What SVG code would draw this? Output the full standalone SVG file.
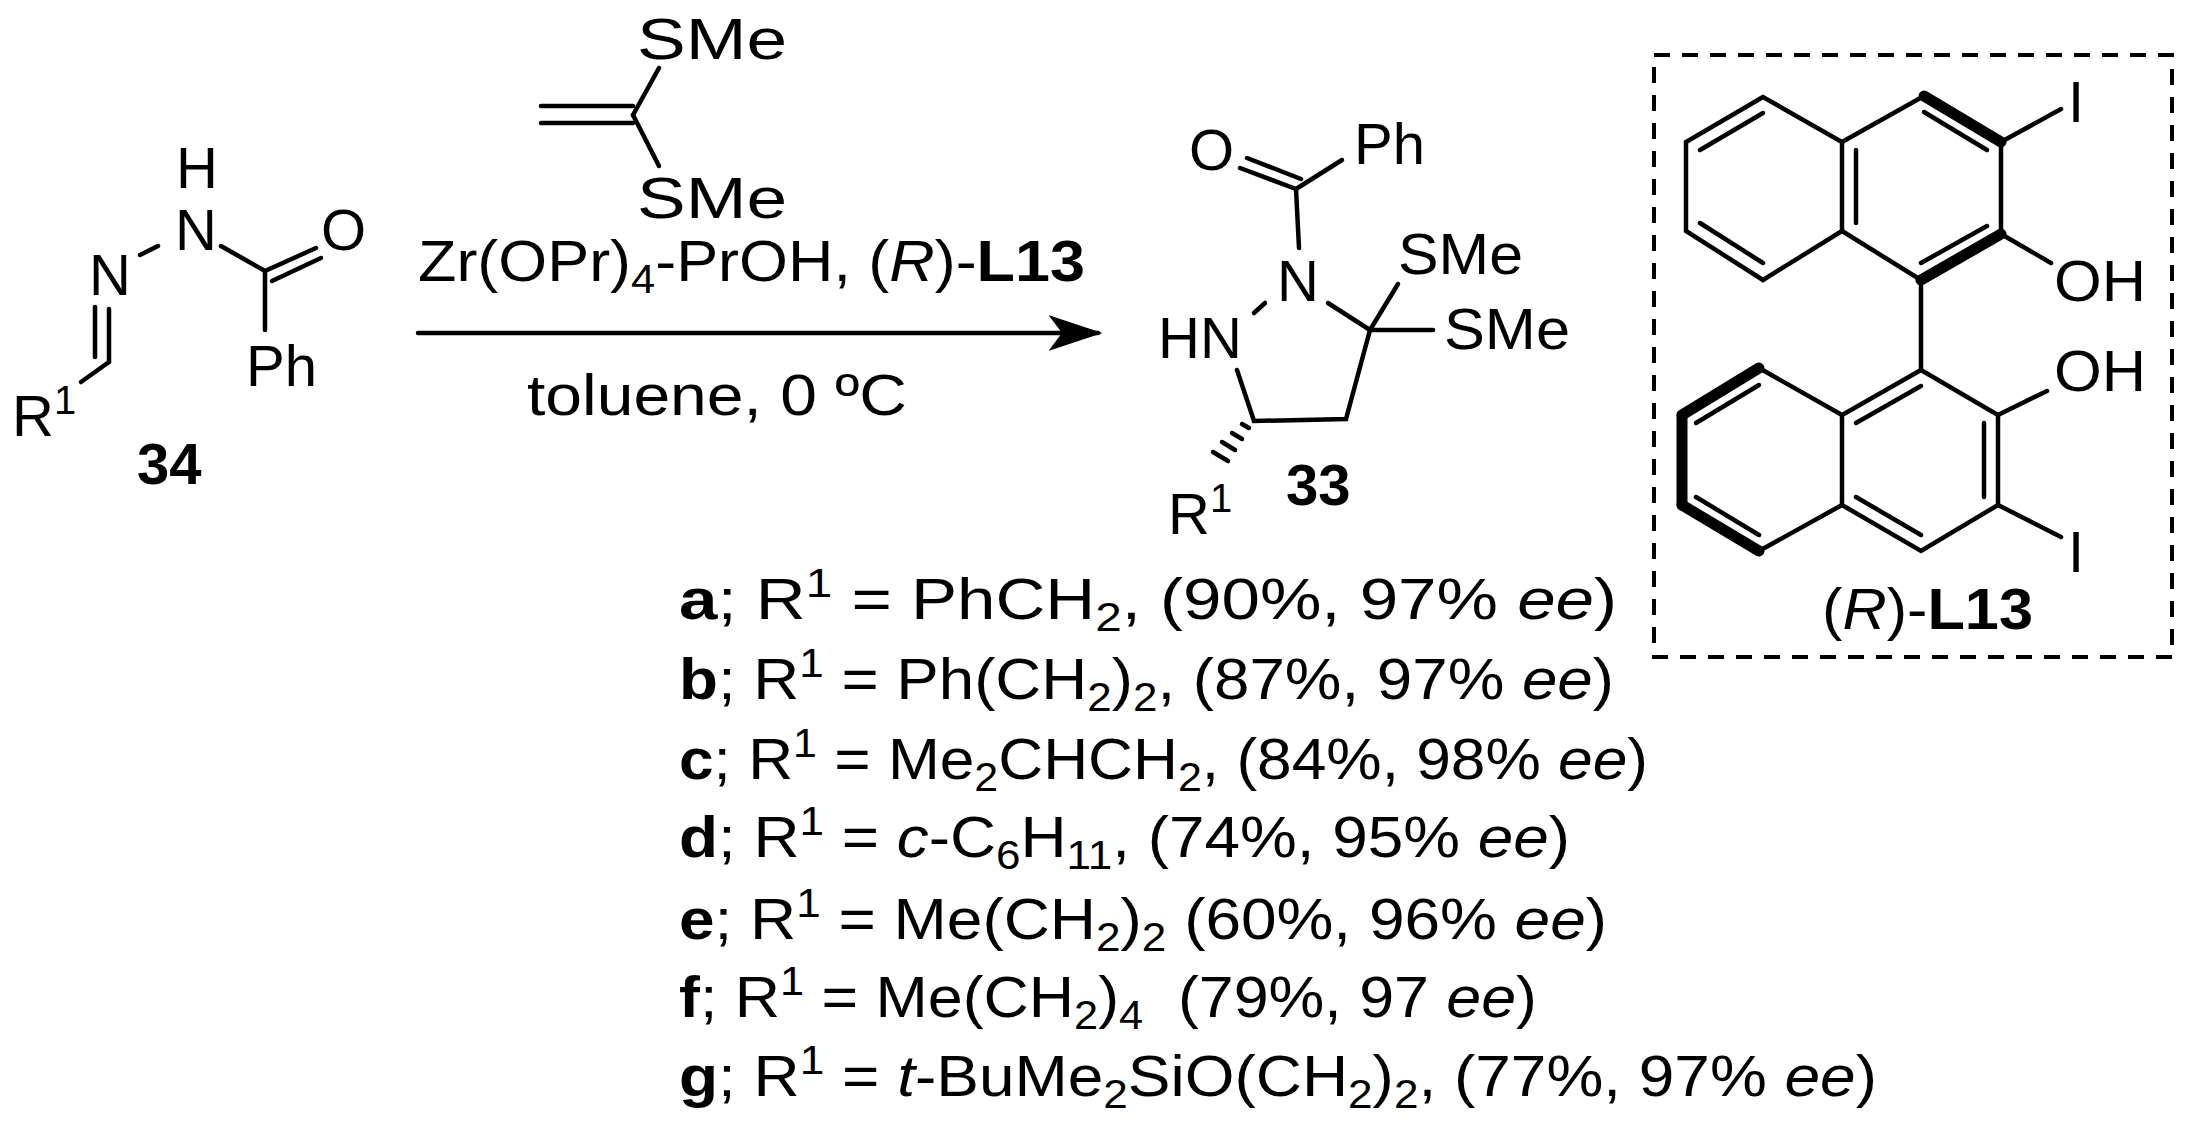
<svg xmlns="http://www.w3.org/2000/svg" width="2193" height="1142" viewBox="0 0 2193 1142">
<style>
text{font-family:"Liberation Sans",Arial,sans-serif;font-size:58px;fill:#000}
.b{font-weight:bold}
.i{font-style:italic}
.sub{font-size:40px}
line,polyline,polygon{stroke:#000;stroke-width:4.5;fill:none;stroke-linecap:round}
.w{stroke-width:11}
</style>
<defs><marker id="ah" markerWidth="12" markerHeight="8" refX="11" refY="4" orient="auto" markerUnits="strokeWidth"><path d="M0,0 L12,4 L0,8 L3,4 Z" fill="#000"/></marker></defs>
<g id="reagent">
<text x="637" y="59" textLength="150" lengthAdjust="spacingAndGlyphs">SMe</text>
<text x="637" y="218" textLength="150" lengthAdjust="spacingAndGlyphs">SMe</text>
<line x1="633" y1="115" x2="659" y2="68"/>
<line x1="633" y1="115" x2="659" y2="166"/>
<line x1="541" y1="106" x2="633" y2="106"/>
<line x1="541" y1="123" x2="633" y2="123"/>
</g>
<g id="connectors">
<line x1="418" y1="333" x2="1098" y2="333" marker-end="url(#ah)"/>
<text x="418" y="281" textLength="667" lengthAdjust="spacingAndGlyphs">Zr(OPr)<tspan class="sub" dy="12">4</tspan><tspan dy="-12">-PrOH, (</tspan><tspan class="i">R</tspan>)-<tspan class="b">L13</tspan></text>
<text x="527" y="415" textLength="380" lengthAdjust="spacingAndGlyphs">toluene, 0 ºC</text>
</g>
<g id="reactant34">
<text x="176" y="188" font-size="54">H</text>
<text x="175" y="250">N</text>
<text x="321" y="250">O</text>
<text x="89" y="295">N</text>
<text x="246" y="386">Ph</text>
<text x="12" y="436">R<tspan class="sub" dy="-22">1</tspan></text>
<text class="b" x="137" y="484">34</text>
<line x1="140" y1="255" x2="158" y2="246"/>
<line x1="221" y1="246" x2="265" y2="271"/>
<line x1="265" y1="271" x2="316" y2="248"/>
<line x1="272" y1="281" x2="321" y2="258"/>
<line x1="265" y1="271" x2="265" y2="330"/>
<line x1="95" y1="307" x2="95" y2="357"/>
<line x1="109" y1="309" x2="109" y2="362"/>
<line x1="109" y1="362" x2="81" y2="382"/>
</g>
<g id="product33">
<text x="1189" y="170">O</text>
<text x="1354" y="164">Ph</text>
<line x1="1240" y1="168" x2="1296" y2="189"/>
<line x1="1247" y1="158" x2="1301" y2="179"/>
<line x1="1296" y1="189" x2="1342" y2="160"/>
<line x1="1296" y1="189" x2="1299" y2="248"/>
<text x="1277" y="301">N</text>
<text x="1158" y="358">HN</text>
<line x1="1265" y1="303" x2="1254" y2="313"/>
<line x1="1328" y1="303" x2="1370" y2="330"/>
<text x="1398" y="274" textLength="125" lengthAdjust="spacingAndGlyphs">SMe</text>
<line x1="1370" y1="330" x2="1398" y2="284"/>
<text x="1444" y="349" textLength="126" lengthAdjust="spacingAndGlyphs">SMe</text>
<line x1="1370" y1="330" x2="1433" y2="330"/>
<polyline points="1370,330 1346,419 1254,421 1237,370"/>
<line x1="1249" y1="428" x2="1242" y2="424"/>
<line x1="1242" y1="439" x2="1232" y2="433"/>
<line x1="1235" y1="450" x2="1222" y2="442"/>
<line x1="1228" y1="461" x2="1213" y2="452"/>
<text x="1168" y="534">R<tspan class="sub" dy="-22">1</tspan></text>
<text class="b" x="1286" y="505">33</text>
</g>
<g id="ligandL13">
<rect x="1654" y="55" width="518" height="602" fill="none" stroke="#000" stroke-width="4" stroke-dasharray="16,12"/>
<polygon points="1763,97 1686,142 1686,231 1763,280 1842,231 1842,142"/>
<polyline points="1842,142 1924,96"/>
<line class="w" x1="1924" y1="96" x2="2001" y2="142"/>
<line x1="2001" y1="142" x2="2001" y2="234"/>
<line class="w" x1="2001" y1="234" x2="1921" y2="280"/>
<line x1="1921" y1="280" x2="1842" y2="231"/>
<line x1="1700" y1="150" x2="1763" y2="113"/>
<line x1="1700" y1="223" x2="1763" y2="263"/>
<line x1="1856" y1="150" x2="1856" y2="223"/>
<line x1="1924" y1="112" x2="1987" y2="150"/>
<line x1="1987" y1="226" x2="1921" y2="263"/>
<line x1="2001" y1="142" x2="2061" y2="109"/>
<text x="2068" y="122">I</text>
<line x1="2001" y1="234" x2="2051" y2="263"/>
<text x="2054" y="301" textLength="92" lengthAdjust="spacingAndGlyphs">OH</text>
<line x1="1921" y1="280" x2="1921" y2="370"/>
<polyline points="1921,370 1998,415 1998,505 1921,551 1842,505 1842,415 1921,370"/>
<line x1="1842" y1="415" x2="1759" y2="368"/>
<line class="w" x1="1759" y1="368" x2="1682" y2="415"/>
<line class="w" x1="1682" y1="415" x2="1682" y2="505"/>
<line class="w" x1="1682" y1="505" x2="1759" y2="551"/>
<line x1="1759" y1="551" x2="1842" y2="505"/>
<line x1="1759" y1="385" x2="1696" y2="423"/>
<line x1="1696" y1="497" x2="1759" y2="535"/>
<line x1="1921" y1="386" x2="1856" y2="423"/>
<line x1="1984" y1="423" x2="1984" y2="497"/>
<line x1="1856" y1="497" x2="1921" y2="535"/>
<line x1="1998" y1="415" x2="2047" y2="391"/>
<text x="2054" y="391" textLength="92" lengthAdjust="spacingAndGlyphs">OH</text>
<line x1="1998" y1="505" x2="2061" y2="537"/>
<text x="2068" y="572">I</text>
<text x="1822" y="629" textLength="211" lengthAdjust="spacingAndGlyphs">(<tspan class="i">R</tspan>)-<tspan class="b">L13</tspan></text>
</g>
<g id="list">
<text x="679" y="619" textLength="938" lengthAdjust="spacingAndGlyphs"><tspan class="b">a</tspan>; R<tspan class="sub" dy="-22">1</tspan><tspan dy="22"> = PhCH</tspan><tspan class="sub" dy="12">2</tspan><tspan dy="-12">, (90%, 97% </tspan><tspan class="i">ee</tspan>)</text>
<text x="679" y="699" textLength="935" lengthAdjust="spacingAndGlyphs"><tspan class="b">b</tspan>; R<tspan class="sub" dy="-22">1</tspan><tspan dy="22"> = Ph(CH</tspan><tspan class="sub" dy="12">2</tspan><tspan dy="-12">)</tspan><tspan class="sub" dy="12">2</tspan><tspan dy="-12">, (87%, 97% </tspan><tspan class="i">ee</tspan>)</text>
<text x="679" y="779" textLength="969" lengthAdjust="spacingAndGlyphs"><tspan class="b">c</tspan>; R<tspan class="sub" dy="-22">1</tspan><tspan dy="22"> = Me</tspan><tspan class="sub" dy="12">2</tspan><tspan dy="-12">CHCH</tspan><tspan class="sub" dy="12">2</tspan><tspan dy="-12">, (84%, 98% </tspan><tspan class="i">ee</tspan>)</text>
<text x="679" y="857" textLength="891" lengthAdjust="spacingAndGlyphs"><tspan class="b">d</tspan>; R<tspan class="sub" dy="-22">1</tspan><tspan dy="22"> = </tspan><tspan class="i">c</tspan>-C<tspan class="sub" dy="12">6</tspan><tspan dy="-12">H</tspan><tspan class="sub" dy="12">11</tspan><tspan dy="-12">, (74%, 95% </tspan><tspan class="i">ee</tspan>)</text>
<text x="679" y="939" textLength="928" lengthAdjust="spacingAndGlyphs"><tspan class="b">e</tspan>; R<tspan class="sub" dy="-22">1</tspan><tspan dy="22"> = Me(CH</tspan><tspan class="sub" dy="12">2</tspan><tspan dy="-12">)</tspan><tspan class="sub" dy="12">2</tspan><tspan dy="-12"> (60%, 96% </tspan><tspan class="i">ee</tspan>)</text>
<text x="679" y="1017" textLength="858" lengthAdjust="spacingAndGlyphs"><tspan class="b">f</tspan>; R<tspan class="sub" dy="-22">1</tspan><tspan dy="22"> = Me(CH</tspan><tspan class="sub" dy="12">2</tspan><tspan dy="-12">)</tspan><tspan class="sub" dy="12">4</tspan><tspan dy="-12" xml:space="preserve">  (79%, 97 </tspan><tspan class="i">ee</tspan>)</text>
<text x="679" y="1096" textLength="1198" lengthAdjust="spacingAndGlyphs"><tspan class="b">g</tspan>; R<tspan class="sub" dy="-22">1</tspan><tspan dy="22"> = </tspan><tspan class="i">t</tspan>-BuMe<tspan class="sub" dy="12">2</tspan><tspan dy="-12">SiO(CH</tspan><tspan class="sub" dy="12">2</tspan><tspan dy="-12">)</tspan><tspan class="sub" dy="12">2</tspan><tspan dy="-12">, (77%, 97% </tspan><tspan class="i">ee</tspan>)</text>
</g>
</svg>
